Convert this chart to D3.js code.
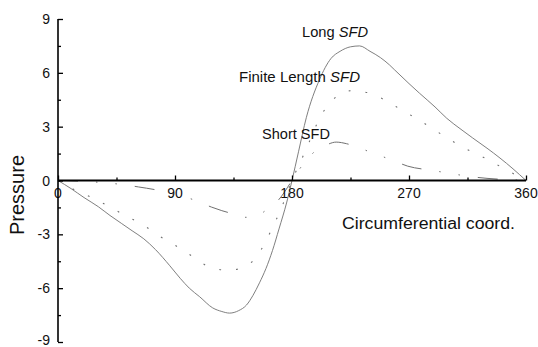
<!DOCTYPE html>
<html>
<head>
<meta charset="utf-8">
<script src="https://cdn.jsdelivr.net/npm/d3@7.9.0/dist/d3.min.js"></script>
<style>
  body { margin: 0; background: #fff; }
  text { font-family: "Liberation Sans", Arial, sans-serif; fill: #111; }
</style>
</head>
<body>
<div id="chart"></div>
<script>
// values (degrees, pressure)
const longDeg = [0, 10, 20, 31, 40, 49, 57, 66, 75, 86, 94, 101, 109, 119, 126, 132, 139, 145, 150, 155, 160, 165, 170, 176, 180,
  185, 191, 201, 210, 217, 225, 232, 240, 248, 255, 259, 270, 278, 290, 299, 310, 319, 330, 340, 350, 360];
const longP = [0, -0.45, -0.95, -1.46, -1.95, -2.4, -2.8, -3.25, -3.85, -4.75, -5.45, -6.0, -6.48, -7.1, -7.3, -7.39, -7.25, -6.94, -6.4, -5.7, -4.9, -3.9, -2.7, -1.2, 0,
  1.6, 3.5, 5.6, 6.8, 7.2, 7.45, 7.5, 7.2, 6.85, 6.44, 6.16, 5.4, 4.87, 4.1, 3.47, 2.85, 2.37, 1.8, 1.25, 0.65, 0];

const finiteDeg = [0, 13, 27, 40, 53, 66, 78, 91, 104, 115, 131, 144, 155, 163, 172, 180,
  190, 203, 213, 225, 238, 251, 265, 277, 290, 302, 314, 327, 341, 360];
const finiteP = [0, -0.53, -0.98, -1.48, -2.0, -2.5, -3.1, -3.65, -4.26, -4.77, -5.0, -4.8, -4.0, -2.93, -1.5, 0,
  1.6, 3.7, 4.6, 5.0, 4.9, 4.5, 3.9, 3.4, 2.8, 2.25, 1.76, 1.3, 0.75, 0];

const shortDeg = [0, 20, 40, 55, 62, 76, 90, 105, 118, 126, 135, 142, 149, 155, 161, 170, 180,
  185, 190, 199, 207, 214, 222, 230, 242, 257, 269, 286, 300, 314, 330, 345, 360];
const shortP = [0, -0.05, -0.15, -0.28, -0.36, -0.53, -0.78, -1.09, -1.48, -1.68, -1.87, -2.05, -2.05, -1.9, -1.6, -1.05, 0,
  0.55, 1.05, 1.7, 2.0, 2.14, 2.05, 1.87, 1.53, 1.14, 0.8, 0.58, 0.42, 0.25, 0.12, 0.05, 0];

const xTicks = [0, 90, 180, 270, 360];
const yTicks = [-9, -6, -3, 0, 3, 6, 9];

const width = 538, height = 347;

const svg = d3.select("#chart").append("svg")
  .attr("width", width)
  .attr("height", height);

const x = d3.scaleLinear().domain([0, 360]).range([58, 526]);
const y = d3.scaleLinear().domain([-9, 9]).range([342, 19]);

const line = d3.line()
  .x(d => x(d[0]))
  .y(d => y(d[1]))
  .curve(d3.curveMonotoneX);

const series = [
  { deg: longDeg, p: longP, dash: null, w: 0.9 },
  { deg: finiteDeg, p: finiteP, dash: "1.8,15", w: 1.1 },
  { deg: shortDeg, p: shortP, dash: "20,18,1.5,18,1.5,18", w: 1 }
];

svg.append("g")
  .selectAll("path")
  .data(series)
  .enter().append("path")
  .attr("d", s => line(d3.zip(s.deg, s.p)))
  .attr("fill", "none")
  .attr("stroke", "#707070")
  .attr("stroke-width", s => s.w)
  .attr("stroke-dasharray", s => s.dash);

// x axis at pressure 0, ticks pointing up
const xAxis = svg.append("g").attr("transform", `translate(0,${y(0)})`);
xAxis.call(d3.axisTop(x).tickValues(d3.range(0, 361, 45)).tickSize(3).tickFormat(""));
xAxis.selectAll(".tick line").filter(d => d % 90 === 0).attr("y2", -5);
xAxis.select(".domain").attr("stroke", "#000").attr("stroke-width", 2).attr("d", `M${x(0)},0H${x(360)}`);
xAxis.selectAll(".tick line").attr("stroke", "#000").attr("stroke-width", 1.3);

svg.append("g")
  .selectAll("text")
  .data(xTicks)
  .enter().append("text")
  .attr("x", d => x(d))
  .attr("y", 198)
  .attr("text-anchor", "middle")
  .attr("font-size", 14)
  .text(d => d);

// y axis, ticks pointing right
const yAxis = svg.append("g").attr("transform", `translate(${x(0)},0)`);
yAxis.call(d3.axisRight(y).tickValues(d3.range(-9, 9.01, 1.5)).tickSize(3).tickFormat(""));
yAxis.selectAll(".tick line").filter(d => d % 3 === 0).attr("x2", 5);
yAxis.select(".domain").attr("stroke", "#000").attr("stroke-width", 1.6).attr("d", `M0,${y(9)}V${y(-9)}`);
yAxis.selectAll(".tick line").attr("stroke", "#000").attr("stroke-width", 1.3);

svg.append("g")
  .selectAll("text")
  .data(yTicks)
  .enter().append("text")
  .attr("x", 50)
  .attr("y", d => Math.min(y(d) + 5, 345))
  .attr("text-anchor", "end")
  .attr("font-size", 14)
  .text(d => d);

// axis titles
svg.append("text")
  .attr("transform", "translate(24,195) rotate(-90)")
  .attr("text-anchor", "middle")
  .attr("font-size", 20)
  .text("Pressure");

svg.append("text")
  .attr("x", 342)
  .attr("y", 229)
  .attr("font-size", 16)
  .attr("textLength", 173)
  .attr("lengthAdjust", "spacingAndGlyphs")
  .text("Circumferential coord.");

// curve labels
const labels = [
  { pre: "Long ", x: 302, y: 37, len: 66 },
  { pre: "Finite Length ", x: 239, y: 82, len: 121 },
  { pre: "Short ", x: 262, y: 139, len: 68 }
];
const lab = svg.append("g")
  .selectAll("text")
  .data(labels)
  .enter().append("text")
  .attr("x", d => d.x)
  .attr("y", d => d.y)
  .attr("font-size", 14)
  .attr("textLength", d => d.len)
  .attr("lengthAdjust", "spacingAndGlyphs");
lab.append("tspan").text(d => d.pre);
lab.append("tspan").attr("font-style", (d, i) => i < 2 ? "italic" : "normal").text("SFD");
</script>
</body>
</html>
